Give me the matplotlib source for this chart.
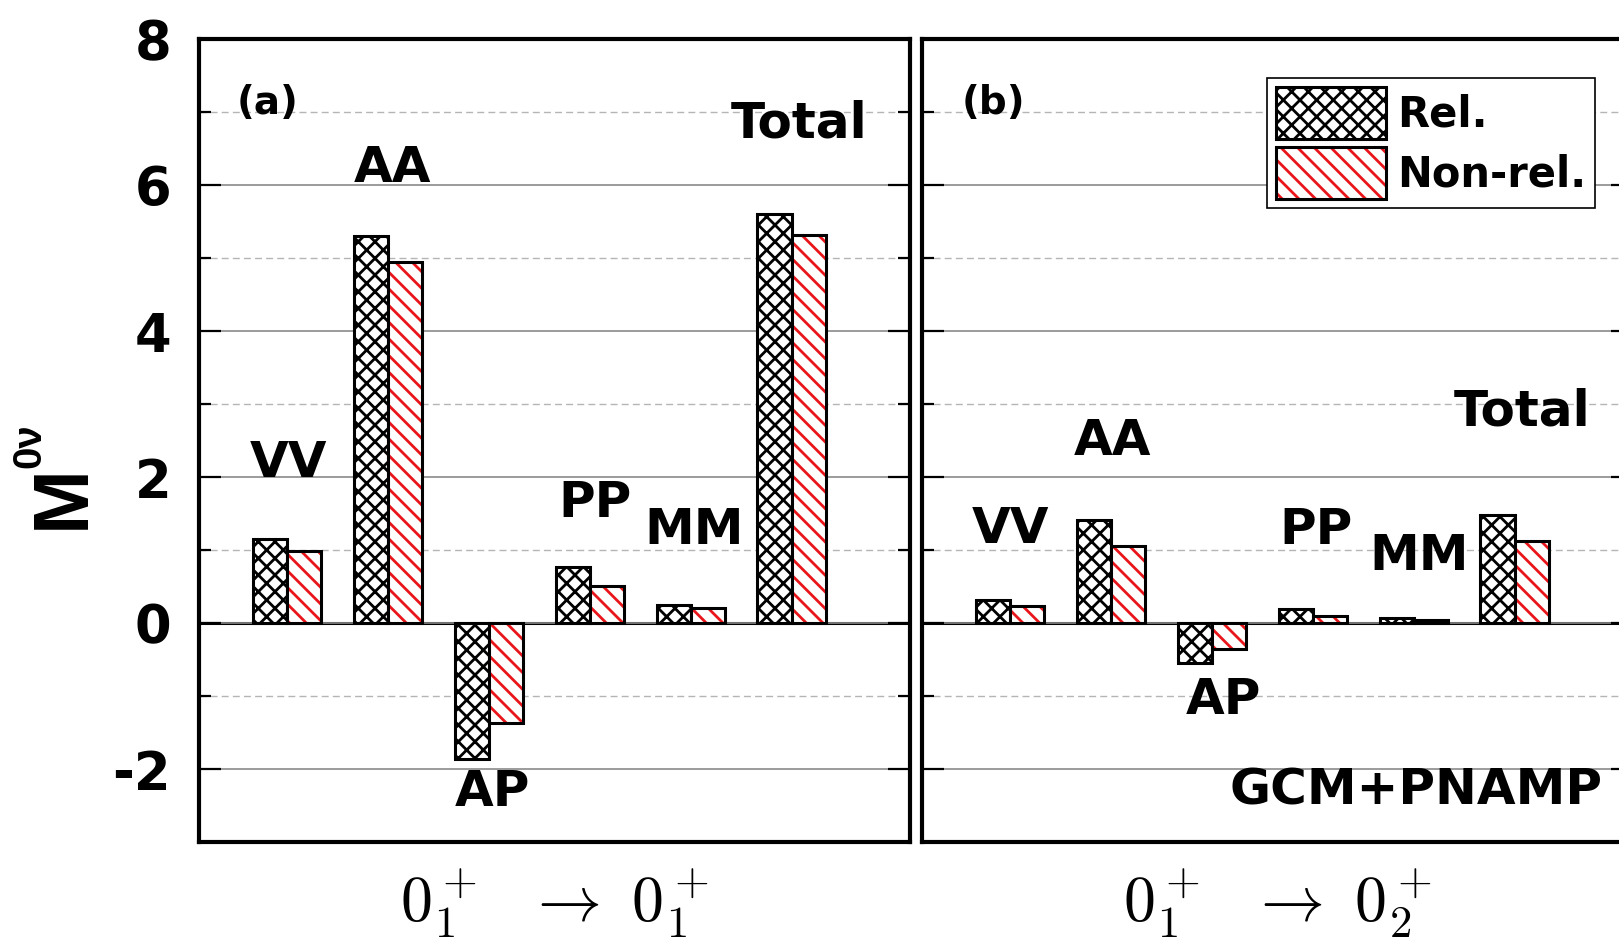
import matplotlib
matplotlib.use("Agg")
import matplotlib.pyplot as plt
import numpy as np
from matplotlib.ticker import MultipleLocator, NullLocator
from matplotlib.legend_handler import HandlerTuple

plt.rcParams['font.family'] = ['DejaVu Sans']
plt.rcParams['font.weight'] = 'bold'
plt.rcParams['axes.unicode_minus'] = False
plt.rcParams['hatch.linewidth'] = 2.0

# channel contributions to M^0v
channels = ["VV", "AA", "AP", "PP", "MM", "Total"]
rel_a = [1.15, 5.30, -1.86, 0.77, 0.24, 5.60]
nonrel_a = [0.98, 4.94, -1.37, 0.51, 0.20, 5.31]
rel_b = [0.32, 1.41, -0.55, 0.19, 0.07, 1.48]
nonrel_b = [0.23, 1.06, -0.35, 0.10, 0.04, 1.12]

# where the channel names sit (data coords)
lab_a = [(1.02, 2.19), (2.05, 6.23), (3.04, -2.32), (4.05, 1.64), (5.03, 1.27), (6.07, 6.84)]
lab_b = [(1.01, 1.29), (2.02, 2.49), (3.11, -1.05), (4.03, 1.27), (5.05, 0.92), (6.07, 2.90)]
transitions = [r"$0_1^+\ \ \rightarrow\ 0_1^+$", r"$0_1^+\ \ \rightarrow\ 0_2^+$"]

W, H = 1619, 950
fig = plt.figure(figsize=(W / 100, H / 100), dpi=100)
ax_a = fig.add_axes([199 / W, 1 - 842 / H, 711 / W, 803 / H])
ax_b = fig.add_axes([922 / W, 1 - 842 / H, 711 / W, 803 / H])

x = np.arange(1, len(channels) + 1)
bw = 0.34
red = "#e8161b"

handles = None
for ax, rel, nonrel, labs, tag, tr in [(ax_a, rel_a, nonrel_a, lab_a, "(a)", transitions[0]),
                                        (ax_b, rel_b, nonrel_b, lab_b, "(b)", transitions[1])]:
    ax.set_xlim(0.13, 7.17)
    ax.set_ylim(-3, 8)
    ax.yaxis.set_major_locator(MultipleLocator(2))
    ax.yaxis.set_minor_locator(MultipleLocator(1))
    ax.xaxis.set_major_locator(NullLocator())
    ax.grid(axis='y', which='major', color='#8a8a8a', lw=1.2, ls='-', zorder=0)
    ax.grid(axis='y', which='minor', color='#b5b5b5', lw=1.0, ls=(0, (5, 3)), zorder=0)
    ax.axhline(0, color='black', lw=2.2, zorder=1)
    ax.tick_params(axis='y', which='major', direction='in', length=16, width=1.6,
                   left=True, right=True, labelsize=38, pad=20)
    ax.tick_params(axis='y', which='minor', direction='in', length=8.5, width=1.6,
                   left=True, right=True)
    for s in ax.spines.values():
        s.set_linewidth(3)

    b1 = ax.bar(x - bw / 2, rel, bw, color='white', edgecolor='black', hatch='xx',
                lw=2.2, zorder=3)
    b2 = ax.bar(x + bw / 2, nonrel, bw, color='white', edgecolor=red, hatch='\\\\',
                lw=0, zorder=3)
    b3 = ax.bar(x + bw / 2, nonrel, bw, fill=False, edgecolor='black', lw=2.2, zorder=4)
    if handles is None:
        handles = [b1, (b2, b3)]

    for name, (lx, ly) in zip(channels, labs):
        ax.text(lx, ly, name, ha='center', va='center', fontsize=36, fontweight='bold', zorder=5)
    ax.text(0.097 if tag == "(a)" else 0.1, 0.92, tag, transform=ax.transAxes,
            ha='center', va='center', fontsize=28, fontweight='bold')
    ax.set_xlabel(tr, fontsize=46, fontweight='normal', math_fontfamily='cm', labelpad=18)

ax_b.tick_params(axis='y', which='both', labelleft=False)
ax_b.text(5.02, -2.29, "GCM+PNAMP", ha='center', va='center', fontsize=36, fontweight='bold')

# y label: big M with a small 0v superscript
fig.text(63.5 / W, 1 - 497 / H, "M", rotation=90, ha='center', va='center',
         fontsize=56, fontweight='bold', family='Liberation Sans')
fig.text(29 / W, 1 - 446 / H, "0ν", rotation=90, ha='center', va='center',
         fontsize=29, fontweight='bold', family='Liberation Sans')

leg = ax_b.legend(handles, ["Rel.", "Non-rel."], loc='upper left',
                  bbox_to_anchor=(0.485, 0.952), fontsize=30, frameon=True,
                  fancybox=False, edgecolor='black', framealpha=1,
                  handlelength=2.65, handleheight=1.54, handletextpad=0.25,
                  labelspacing=0.2, borderpad=0.22, borderaxespad=0,
                  handler_map={tuple: HandlerTuple(ndivide=1)})
leg.get_frame().set_linewidth(1.2)
for t in leg.get_texts():
    t.set_fontweight('bold')

fig.savefig("out.png", dpi=100)
